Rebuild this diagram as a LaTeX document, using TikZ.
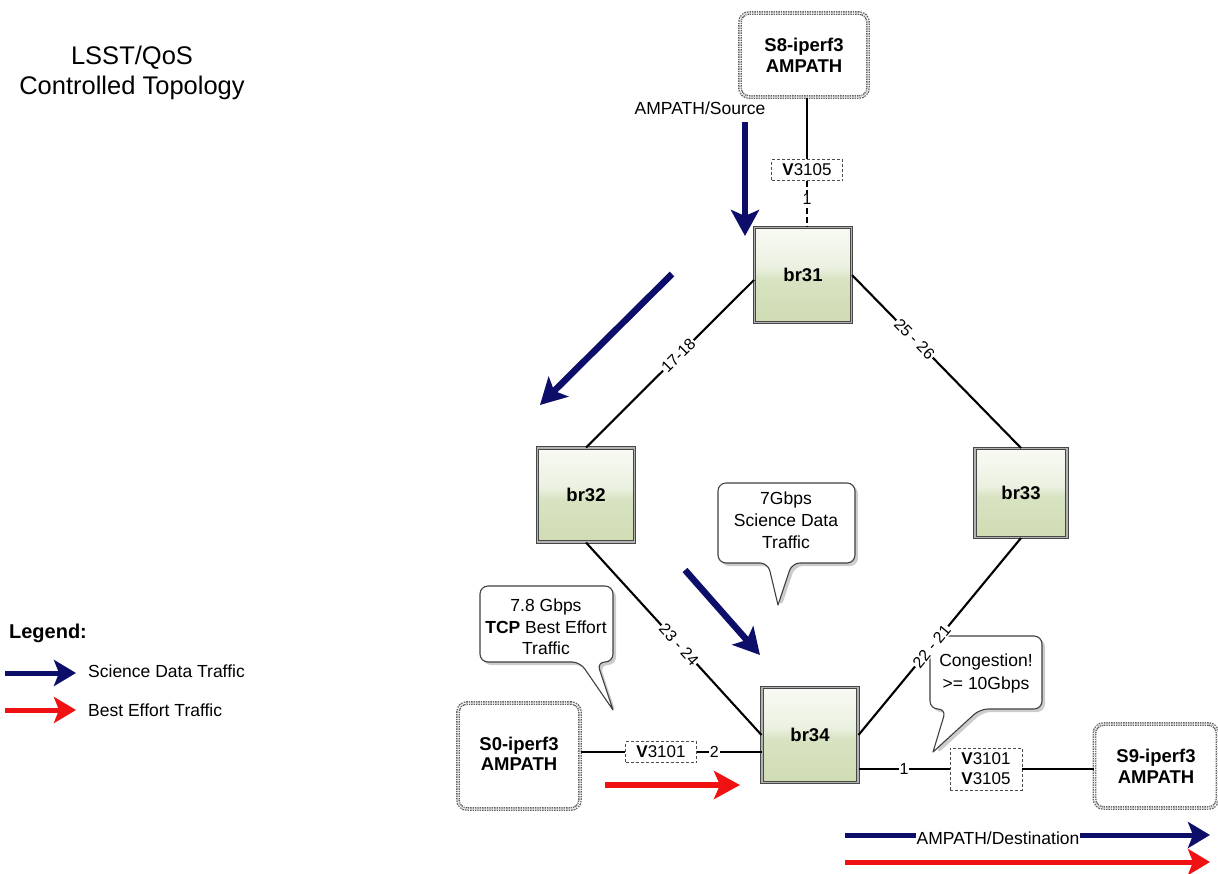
\documentclass[tikz,border=0pt]{standalone}
\usepackage{fontspec}
\setmainfont{Liberation Sans}
\usetikzlibrary{arrows.meta}
\definecolor{navy}{RGB}{12,14,105}
\definecolor{bred}{RGB}{240,18,18}
\definecolor{rgA}{HTML}{D0DCB3}
\definecolor{rgB}{HTML}{D8E3C2}
\definecolor{rgC}{HTML}{EBF1E1}
\definecolor{rgD}{HTML}{F8FAF4}
\pgfdeclareverticalshading{routershade}{100bp}{color(0bp)=(rgA); color(25bp)=(rgA); color(48bp)=(rgB); color(54bp)=(rgC); color(75bp)=(rgD); color(100bp)=(rgD)}
\begin{document}
\begin{tikzpicture}[x=1pt,y=-1pt,
 lab/.style={font=\fontsize{17.5pt}{22pt}\selectfont, align=center, inner sep=0pt},
 router/.style={shade, shading=routershade, draw=black!72, double=gray!60, double distance=1.2pt, line width=1pt, font=\fontsize{18.5pt}{22pt}\selectfont\bfseries, inner sep=0pt},
 server/.style={draw=gray!75!black, double=white, double distance=1pt, line width=1.4pt, densely dotted, rounded corners=9pt, fill=white, font=\fontsize{18.5pt}{21pt}\selectfont\bfseries, align=center, inner sep=0pt, minimum width=126pt, minimum height=84pt},
 vlan/.style={draw=black!70, dash pattern=on 3pt off 2pt, line width=0.9pt, fill=white, font=\fontsize{17pt}{20pt}\selectfont, align=center, inner sep=0pt, minimum width=71pt},
 conn/.style={line width=2.1pt, black},
 plab/.style={fill=white, inner sep=1pt, font=\fontsize{16pt}{18pt}\selectfont},
 bubble/.style={draw=black!75, fill=white, line width=1.1pt, rounded corners=8pt, line cap=round, line join=round},
 bshadow/.style={fill=black!20, draw=none, rounded corners=8pt},
 sci/.style={navy, line width=6.5pt, -{Stealth[length=26pt,width=28pt,inset=6pt]}},
 bef/.style={bred, line width=6.5pt, -{Stealth[length=26pt,width=28pt,inset=6pt]}},
 lsci/.style={navy, line width=5pt, -{Stealth[length=22pt,width=26pt,inset=5pt]}},
 lbef/.style={bred, line width=5pt, -{Stealth[length=22pt,width=26pt,inset=5pt]}}
]
\useasboundingbox (0,0) rectangle (1218,873);

% title
\node[font=\fontsize{25.5pt}{30pt}\selectfont, align=center] (title) at (132,73) {LSST/QoS\\Controlled Topology};

% callouts (drawn first, links on top)
\fill[bshadow, shift={(3,3)}] (778,605) -- (768,563) -- (718,563) -- (718,483) -- (855,483) -- (855,563) -- (792,563) -- cycle;
\draw[bubble] (778,605) -- (768,563) -- (718,563) -- (718,483) -- (855,483) -- (855,563) -- (792,563) -- (778,605);
\node[lab] (c1) at (786,520) {7Gbps\\Science Data\\Traffic};

\fill[bshadow, shift={(3,3)}] (613,710) -- (580,662) -- (480,662) -- (480,586) -- (613,586) -- (613,662) -- (597,662) -- cycle;
\draw[bubble] (613,710) -- (580,662) -- (480,662) -- (480,586) -- (613,586) -- (613,662) -- (597,662) -- (613,710);
\node[lab, font=\fontsize{17.5pt}{21.5pt}\selectfont] (c2) at (546,627) {7.8 Gbps\\\textbf{TCP} Best Effort\\Traffic};

\fill[bshadow, shift={(3,3)}] (933,752) -- (946,709) -- (930,709) -- (930,636) -- (1042,636) -- (1042,709) -- (980,709) -- cycle;
\draw[bubble] (933,752) -- (946,709) -- (930,709) -- (930,636) -- (1042,636) -- (1042,709) -- (980,709) -- (933,752);
\node[lab, font=\fontsize{17.5pt}{23pt}\selectfont] (c3) at (986,673) {Congestion!\\>= 10Gbps};

% routers
\node[router, minimum width=97pt, minimum height=95pt] (br31) at (803,275) {br31};
\node[router, minimum width=97pt, minimum height=94pt] (br32) at (586,495) {br32};
\node[router, minimum width=92pt, minimum height=89pt] (br33) at (1021,493) {br33};
\node[router, minimum width=96pt, minimum height=95pt] (br34) at (810,735) {br34};

% servers
\node[server, minimum width=128pt, minimum height=84pt] (s8) at (804,55) {S8-iperf3\\AMPATH};
\node[server, minimum width=122pt, minimum height=106pt] (s0) at (519,756) {\raisebox{4pt}{\shortstack{S0-iperf3\\AMPATH}}};
\node[server, minimum width=123pt, minimum height=84pt] (s9) at (1156,766) {S9-iperf3\\AMPATH};

% vlan tags
\node[vlan, minimum height=21pt] (v1) at (807,170) {\textbf{V}3105};
\node[vlan, minimum height=21pt] (v2) at (661,752) {\textbf{V}3101};
\node[vlan, minimum height=42pt, minimum width=72pt] (v3) at (986,769) {\textbf{V}3101\\\textbf{V}3105};

% links
\draw[conn] (v1.north |- s8.south) -- (v1.north);
\draw[conn, dash pattern=on 6pt off 3pt] (v1.south) -- node[plab, pos=0.4] (l1) {1} (v1.south |- br31.north);
\draw[conn] ([yshift=-5pt]br31.west) -- node[plab, sloped, pos=0.45] (l1718) {17-18} (br32.north);
\draw[conn] (br31.east) -- node[plab, sloped, pos=0.37] (l2526) {25 - 26} (br33.north);
\draw[conn] (br32.south) -- node[plab, sloped, pos=0.53] (l2324) {23 - 24} (br34.west);
\draw[conn] (br33.south) -- node[plab, sloped, pos=0.55] (l2221) {22 - 21} (br34.east);
\draw[conn] (v2.west -| s0.east) -- (v2.west);
\draw[conn] (v2.east) -- node[plab, pos=0.27] (l2) {2} (v2.east -| br34.west);
\draw[conn] (v3.west -| br34.east) -- node[plab, pos=0.5] (l1b) {1} (v3.west);
\draw[conn] (v3.east) -- (v3.east -| s9.west);

% traffic arrows
\node[lab] (src) at (700,108) {AMPATH/Source};
\coordinate (a1s) at (745,122); \coordinate (a1e) at (745,236);
\draw[sci] (a1s) -- (a1e);
\coordinate (a2s) at (672,274); \coordinate (a2e) at (540,405);
\draw[sci] (a2s) -- (a2e);
\coordinate (a3s) at (685,570); \coordinate (a3e) at (760,655);
\draw[sci] (a3s) -- (a3e);
\coordinate (a4s) at (605,785); \coordinate (a4e) at (740,785);
\draw[bef] (a4s) -- (a4e);
\coordinate (a5s) at (845,835); \coordinate (a5e) at (1210,835);
\draw[lsci] (a5s) -- (a5e);
\node[lab, fill=white, inner sep=1pt] (dst) at (998,838) {AMPATH/Destination};
\coordinate (a6s) at (845,862); \coordinate (a6e) at (1210,862);
\draw[lbef] (a6s) -- (a6e);

% legend
\node[font=\fontsize{20pt}{24pt}\selectfont\bfseries, inner sep=0pt] (leg) at (48,633) {Legend:};
\coordinate (l1s) at (5,673); \coordinate (l1e) at (76,673);
\draw[lsci] (l1s) -- (l1e);
\node[lab, anchor=west] (legsci) at (88,671) {Science Data Traffic};
\coordinate (l2s) at (5,710); \coordinate (l2e) at (76,710);
\draw[lbef] (l2s) -- (l2e);
\node[lab, anchor=west] (legbef) at (88,710) {Best Effort Traffic};
\end{tikzpicture}
\end{document}
